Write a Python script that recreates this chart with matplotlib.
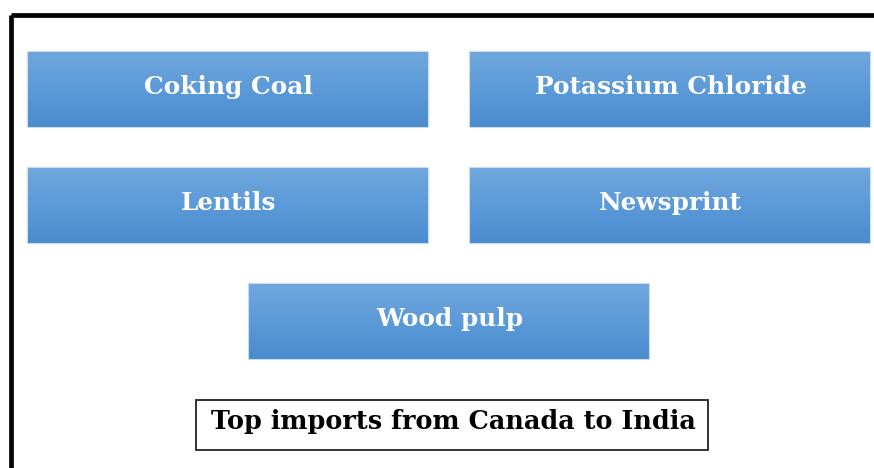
import numpy as np
import matplotlib
matplotlib.use("Agg")
import matplotlib.pyplot as plt
from matplotlib.patches import Rectangle
from matplotlib.colors import LinearSegmentedColormap

items = ["Coking Coal", "Potassium Chloride", "Lentils", "Newsprint", "Wood pulp"]
caption = "Top imports from Canada to India"

W, H = 874, 468
fig = plt.figure(figsize=(W / 100, H / 100), dpi=100)
ax = fig.add_axes([0, 0, 1, 1])
ax.set_xlim(0, W)
ax.set_ylim(H, 0)
ax.axis("off")

# outer frame
ax.add_patch(Rectangle((10.5, 14.5), W + 20, H + 20, fill=False, edgecolor="black", lw=3.4))

cmap = LinearSegmentedColormap.from_list("g", ["#70a7dd", "#5c9ad8", "#4a8bcd"])
grad = np.linspace(0, 1, 100).reshape(-1, 1)

bw, bh = 401, 76
positions = [(27, 51), (469, 51), (27, 167), (469, 167), (248, 283)]
for label, (x, y) in zip(items, positions):
    ax.imshow(grad, cmap=cmap, extent=(x, x + bw, y + bh, y), aspect="auto", zorder=2)
    ax.add_patch(Rectangle((x, y), bw, bh, fill=False, edgecolor="#c9dcef", lw=0.8, zorder=3))
    ax.text(x + bw / 2 + 1, y + bh / 2 - 2, label, color="white", fontsize=17.8,
            fontweight="bold", family="DejaVu Serif", ha="center", va="center", zorder=4)

ax.add_patch(Rectangle((196, 400), 512, 50, fill=False, edgecolor="#222222", lw=1.3, zorder=3))
ax.text(453, 422, caption, color="black", fontsize=18.4, fontweight="bold",
        family="DejaVu Serif", ha="center", va="center", zorder=4)

ax.set_xlim(0, W)
ax.set_ylim(H, 0)
fig.savefig("out.png", dpi=100)
